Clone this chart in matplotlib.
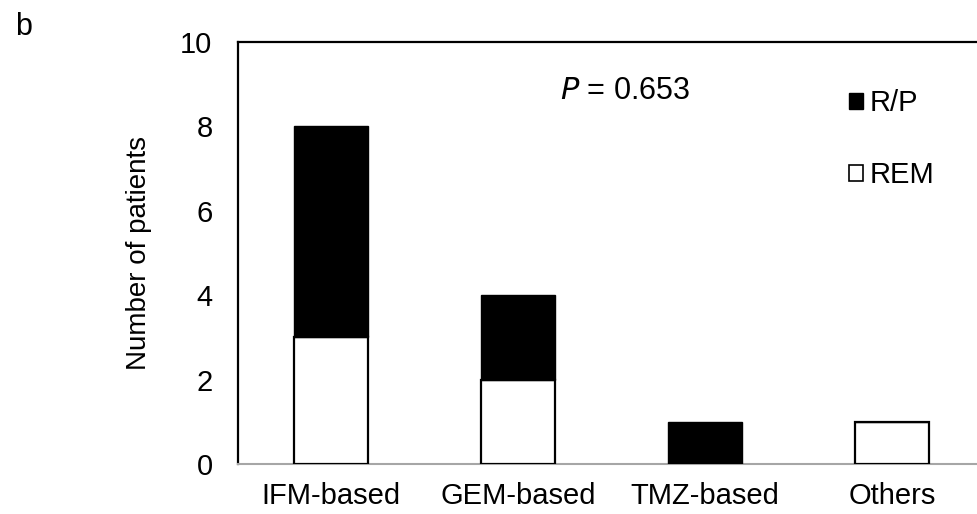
import matplotlib
matplotlib.use("Agg")
import matplotlib.pyplot as plt
from matplotlib.patches import Patch

plt.rcParams['font.family'] = ['Liberation Sans', 'DejaVu Sans']

# data
categories = ["IFM-based", "GEM-based", "TMZ-based", "Others"]
rem = [3, 2, 0, 1]
rp = [5, 2, 1, 0]
p_text = "0.653"

fig = plt.figure(figsize=(9.77, 5.14), dpi=100)
ax = fig.add_axes([237.5 / 977, 50 / 514, 748 / 977, 422 / 514])

x = list(range(len(categories)))
w = 0.40
ax.bar(x, rem, width=w, color="white", edgecolor="black", linewidth=1.6, zorder=3)
ax.bar(x, rp, width=w, bottom=rem, color="black", edgecolor="black", linewidth=1.0, zorder=3)

ax.set_xlim(-0.5, 3.5)
ax.set_ylim(0, 10)
ax.set_yticks([0, 2, 4, 6, 8, 10])
ax.set_xticks(x)
ax.set_xticklabels(categories)
ax.tick_params(axis="y", length=0, pad=18, labelsize=21)
ax.tick_params(axis="x", length=0, pad=13, labelsize=21)

for s in ["top", "left", "right"]:
    ax.spines[s].set_color("black")
    ax.spines[s].set_linewidth(1.6)
ax.spines["bottom"].set_color("#a6a6a6")
ax.spines["bottom"].set_linewidth(1.5)

ax.set_ylabel("Number of patients", fontsize=20, labelpad=20)

ax.text(1.57, 8.85, "$\\it{P}$ = " + p_text, fontsize=22, ha="center", va="center")

handles = [Patch(facecolor="black", edgecolor="black", label="R/P"),
           Patch(facecolor="white", edgecolor="black", linewidth=1.2, label="REM")]
ax.legend(handles=handles, loc="upper left", bbox_to_anchor=(0.783, 0.95),
          frameon=False, fontsize=21, handlelength=0.45, handleheight=0.45,
          handletextpad=0.25, labelspacing=1.5)

fig.text(15 / 977, 1 - 27 / 514, "b", fontsize=22, ha="left", va="center")

fig.savefig("out.png", dpi=100)
